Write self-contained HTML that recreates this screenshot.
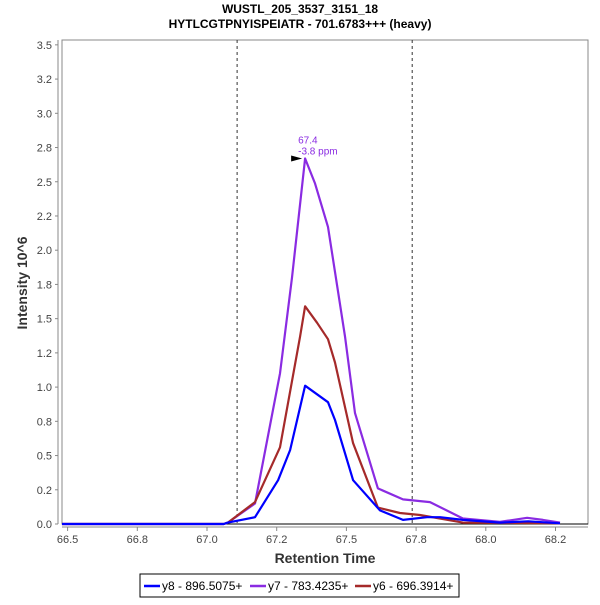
<!DOCTYPE html>
<html><head><meta charset="utf-8"><style>
body{margin:0;background:#fff;font-family:"Liberation Sans",sans-serif}
svg text{font-family:"Liberation Sans",sans-serif}
</style></head><body>
<svg id="c" width="600" height="600" viewBox="0 0 600 600">
<text x="300" y="13" text-anchor="middle" font-size="12" font-weight="bold">WUSTL_205_3537_3151_18</text>
<text x="300" y="28" text-anchor="middle" font-size="12" font-weight="bold">HYTLCGTPNYISPEIATR - 701.6783+++ (heavy)</text>
<rect x="62" y="40" width="526" height="484" fill="#fff" stroke="#888"/>
<g id="yax"></g>
<g id="xax"></g>
<text transform="translate(27,283) rotate(-90)" text-anchor="middle" font-size="14" font-weight="bold" fill="#333">Intensity 10^6</text>
<text x="325" y="563" text-anchor="middle" font-size="14" font-weight="bold" fill="#333">Retention Time</text>
<g id="series"></g>
<g>
<rect x="140" y="574" width="319" height="23" fill="#fff" stroke="#000"/>
<line x1="144" y1="586" x2="160" y2="586" stroke="#0000ff" stroke-width="2.5"/>
<text x="162" y="590" font-size="12">y8 - 896.5075+</text>
<line x1="250" y1="586" x2="266" y2="586" stroke="#8a2be2" stroke-width="2.5"/>
<text x="268" y="590" font-size="12">y7 - 783.4235+</text>
<line x1="355" y1="586" x2="371" y2="586" stroke="#a52a2a" stroke-width="2.5"/>
<text x="373" y="590" font-size="12">y6 - 696.3914+</text>
</g>
</svg>
<script>
const yTicks=[0,0.25,0.5,0.75,1,1.25,1.5,1.75,2,2.25,2.5,2.75,3,3.25,3.5];
const yLabels=["0.0","0.2","0.5","0.8","1.0","1.2","1.5","1.8","2.0","2.2","2.5","2.8","3.0","3.2","3.5"];
const xTicks=[66.5,66.75,67,67.25,67.5,67.75,68,68.25];
const xLabels=["66.5","66.8","67.0","67.2","67.5","67.8","68.0","68.2"];
const boundaries=[67.108,67.736];
const y8Times=[66.48,67.06,67.075,67.172,67.255,67.298,67.352,67.434,67.459,67.524,67.62,67.703,67.789,67.836,67.918,68.051,68.152,68.266];
const y8Vals=[0,0,0.01,0.05,0.32,0.54,1.01,0.89,0.76,0.32,0.10,0.03,0.05,0.05,0.03,0.01,0.02,0.005];
const y7Times=[66.48,67.06,67.075,67.172,67.262,67.305,67.352,67.387,67.434,67.495,67.531,67.613,67.703,67.8,67.918,68.051,68.148,68.205,68.266];
const y7Vals=[0,0,0.01,0.15,1.10,1.80,2.67,2.49,2.17,1.37,0.81,0.26,0.18,0.16,0.04,0.015,0.045,0.03,0.01];
const y6Times=[66.48,67.06,67.075,67.172,67.262,67.334,67.352,67.395,67.434,67.459,67.524,67.613,67.692,67.764,67.918,68.266];
const y6Vals=[0,0,0.01,0.16,0.56,1.37,1.59,1.47,1.35,1.18,0.59,0.12,0.08,0.066,0.01,0.005];
const peakTime=67.352, peakVal=2.67;
const NS="http://www.w3.org/2000/svg";
const X=t=>67.6+(t-66.5)*278.8;
const Y=v=>524-v*136.9;
function mk(tag,attrs,parent){const e=document.createElementNS(NS,tag);for(const k in attrs)e.setAttribute(k,attrs[k]);parent.appendChild(e);return e;}
const yax=document.getElementById('yax'),xax=document.getElementById('xax'),ser=document.getElementById('series'),svg=document.getElementById('c');
mk('line',{x1:58,y1:40,x2:58,y2:524,stroke:'#888'},yax);
mk('line',{x1:62,y1:527,x2:588,y2:527,stroke:'#888'},xax);
yTicks.forEach((v,i)=>{
 mk('line',{x1:55,y1:Y(v),x2:58,y2:Y(v),stroke:'#888'},yax);
 const t=mk('text',{x:52,y:Y(v)+4,'text-anchor':'end','font-size':11,fill:'#444'},yax);t.textContent=yLabels[i];
 
 
});
xTicks.forEach((v,i)=>{
 mk('line',{x1:X(v),y1:527,x2:X(v),y2:531,stroke:'#888'},xax);
 const t=mk('text',{x:X(v),y:543,'text-anchor':'middle','font-size':11,fill:'#444'},xax);t.textContent=xLabels[i];
 
 
});
mk('line',{x1:62,y1:Y(0),x2:588,y2:Y(0),stroke:'#000','stroke-width':1},ser);
boundaries.forEach(b=>{
 const l=mk('line',{x1:X(b),y1:40,x2:X(b),y2:524,stroke:'#333','stroke-dasharray':'3,3'},ser);
 
 
});
function line(ts,vs,color,name){
 const d=ts.map((t,i)=>(i?'L':'M')+X(t).toFixed(1)+','+Y(vs[i]).toFixed(1)).join('');
 const p=mk('path',{d:d,fill:'none',stroke:color,'stroke-width':2.2,'stroke-linejoin':'round'},ser);
 
 
}
line(y7Times,y7Vals,'#8a2be2','series-y7');
line(y6Times,y6Vals,'#a52a2a','series-y6');
line(y8Times,y8Vals,'#0000ff','series-y8');
const px=X(peakTime),py=Y(peakVal);
const tri=mk('polygon',{points:`${px-14},${py-3} ${px-3},${py} ${px-14},${py+3}`,fill:'#000'},ser);


const a1=mk('text',{x:px-7,y:py-15,'font-size':10,fill:'#8a2be2'},ser);a1.textContent='67.4';


const a2=mk('text',{x:px-7,y:py-4,'font-size':10,fill:'#8a2be2'},ser);a2.textContent='-3.8 ppm';


</script>
</body></html>
